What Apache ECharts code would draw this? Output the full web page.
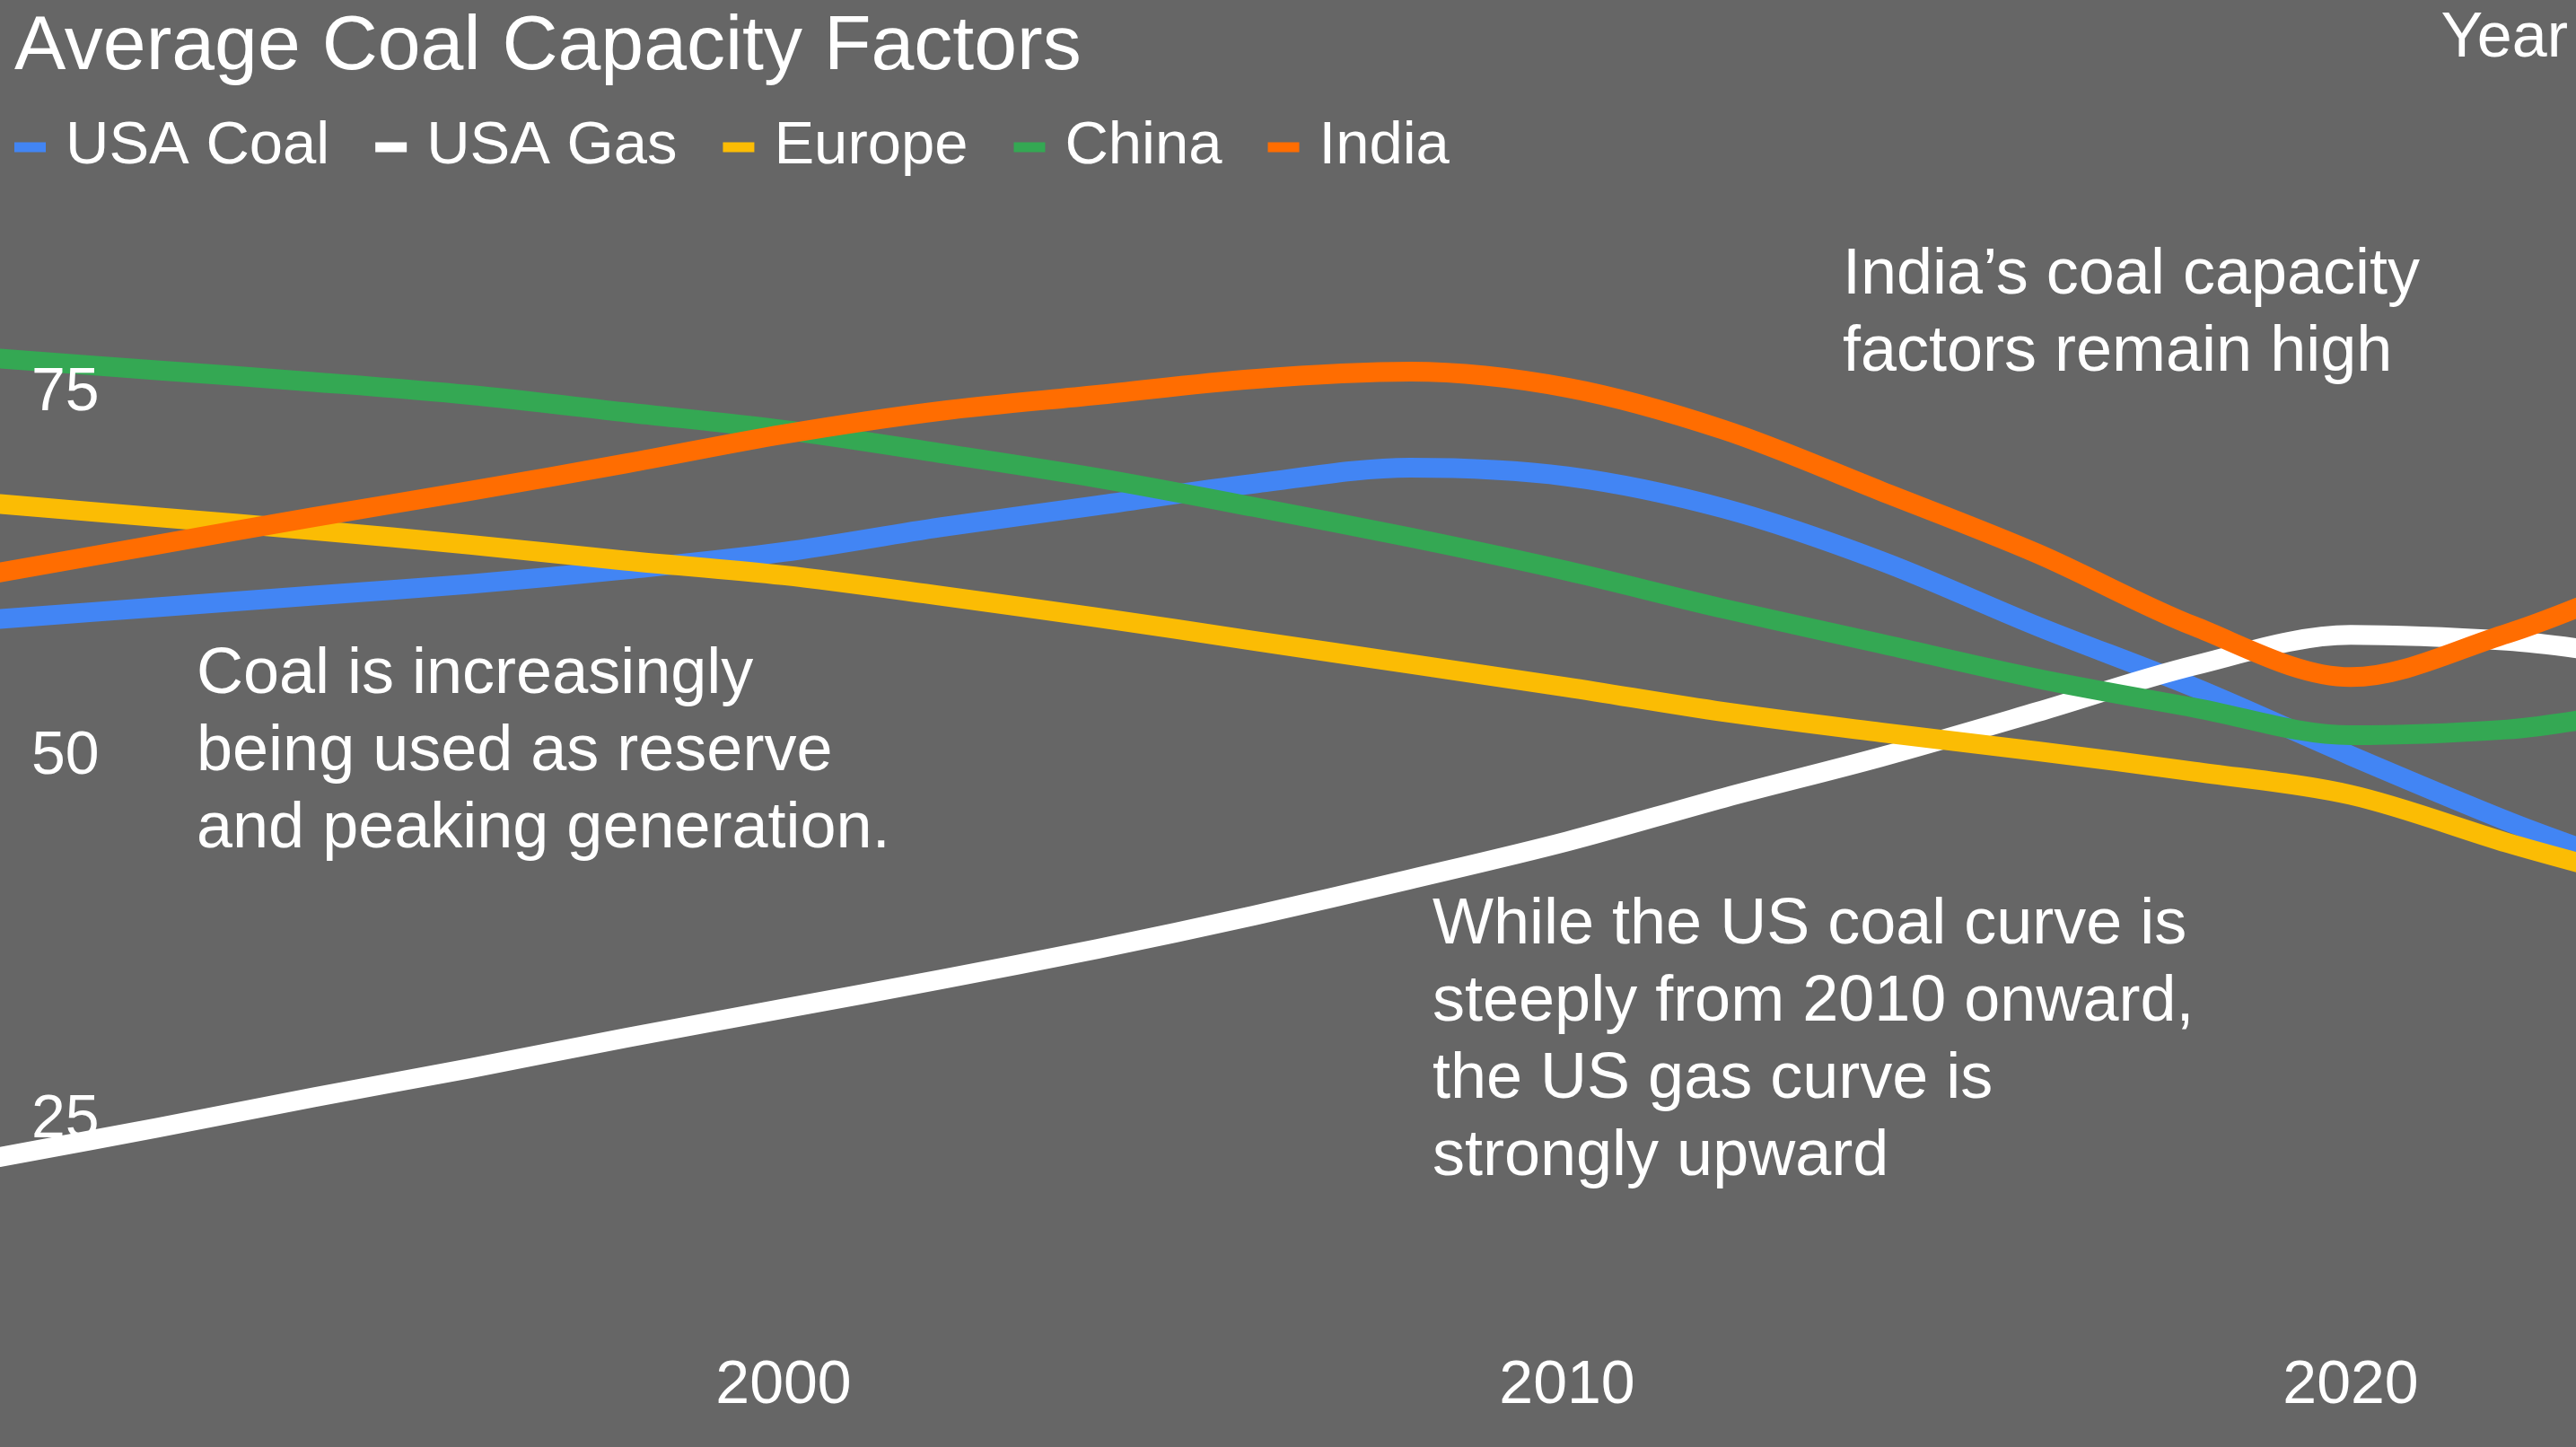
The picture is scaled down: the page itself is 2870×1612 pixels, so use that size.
<!DOCTYPE html>
<html>
<head>
<meta charset="utf-8">
<script src="https://cdn.jsdelivr.net/npm/echarts@6/dist/echarts.min.js"></script>
<style>
html,body{margin:0;padding:0;background:#666666;}
#chart{width:2870px;height:1612px;}
</style>
</head>
<body>
<div id="chart"></div>
<script>
const titleText = 'Average Coal Capacity Factors';
const seriesNames = ['USA Coal', 'USA Gas', 'Europe', 'China', 'India'];
const years   = [1990, 1992, 1994, 1996, 1998, 2000, 2002, 2004, 2006, 2008, 2010, 2012, 2014, 2016, 2018, 2020, 2022, 2023];
const usaCoal = [59.2, 60.0, 60.8, 61.6, 62.6, 63.8, 65.5, 67.0, 68.5, 69.6, 69.0, 66.8, 63.2, 58.7, 54.5, 49.8, 45.3, 43.3];
const usaGas  = [22.2, 24.2, 26.3, 28.3, 30.4, 32.4, 34.4, 36.5, 38.8, 41.3, 43.9, 46.9, 49.7, 52.8, 56.0, 58.1, 57.7, 57.1];
const europe  = [67.1, 66.2, 65.3, 64.3, 63.2, 62.2, 60.8, 59.3, 57.7, 56.1, 54.5, 52.8, 51.4, 50.1, 48.7, 47.1, 43.8, 42.3];
const china   = [77.1, 76.3, 75.5, 74.6, 73.4, 72.2, 70.6, 68.9, 66.9, 64.8, 62.5, 59.9, 57.5, 55.1, 53.1, 51.2, 51.6, 52.3];
const india   = [62.4, 64.3, 66.2, 68.0, 69.9, 71.9, 73.5, 74.6, 75.7, 76.2, 75.1, 72.2, 68.0, 63.7, 58.7, 55.2, 58.2, 60.2];
const xTicks = [2000, 2010, 2020];
const yTicks = [25, 50, 75];
const xAxisName = 'Year';
const note1 = 'India\u2019s coal capacity\nfactors remain high';
const note2 = 'Coal is increasingly\nbeing used as reserve\nand peaking generation.';
const note3 = 'While the US coal curve is\nsteeply from 2010 onward,\nthe US gas curve is\nstrongly upward';

const colors = ['#4285F4', '#FFFFFF', '#FBBC04', '#34A853', '#FF6D01'];
const allValues = [usaCoal, usaGas, europe, china, india];
const FONT = "'Liberation Sans', Arial, sans-serif";

const chart = echarts.init(document.getElementById('chart'), null, {renderer: 'canvas'});

const series = seriesNames.map((name, i) => ({
  name: name,
  type: 'line',
  smooth: 0.33,
  showSymbol: false,
  symbol: 'none',
  clip: true,
  z: 2,
  lineStyle: {color: colors[i], width: 22, cap: 'round', join: 'round'},
  itemStyle: {color: colors[i]},
  data: years.map((y, k) => [y, allValues[i][k]])
}));

const noteStyle = {fill: '#FFFFFF', fontSize: 72, fontFamily: FONT, lineHeight: 86, align: 'left', verticalAlign: 'top'};

chart.setOption({
  animation: false,
  backgroundColor: '#666666',
  color: colors,
  title: {
    text: titleText,
    left: 16, top: 10,
    padding: 0,
    textStyle: {color: '#FFFFFF', fontSize: 86, fontWeight: 'normal', fontFamily: FONT, lineHeight: 86}
  },
  legend: {
    data: seriesNames,
    left: 16, top: 124,
    padding: 0,
    icon: 'rect',
    itemWidth: 35, itemHeight: 11,
    itemGap: 51,
    textStyle: {color: '#FFFFFF', fontSize: 67, fontFamily: FONT, lineHeight: 80, padding: [0, 0, 0, 17]}
  },
  grid: {left: 0, right: 0, top: 0, bottom: 112, containLabel: false},
  xAxis: {
    type: 'value',
    min: 1990, max: 2022.875,
    axisLine: {show: false}, axisTick: {show: false}, splitLine: {show: false},
    axisLabel: {
      customValues: xTicks,
      formatter: v => String(v),
      color: '#FFFFFF', fontSize: 68, fontFamily: FONT, lineHeight: 68, margin: 10
    }
  },
  yAxis: {
    type: 'value',
    min: 9.17, max: 101.76,
    z: 10,
    axisLine: {show: false}, axisTick: {show: false}, splitLine: {show: false},
    axisLabel: {
      customValues: yTicks,
      inside: true,
      margin: 35,
      verticalAlign: 'top',
      lineHeight: 10,
      color: '#FFFFFF', fontSize: 68, fontFamily: FONT
    }
  },
  graphic: [
    {type: 'text', right: 9, top: 9, z: 20, style: {text: xAxisName, fill: '#FFFFFF', fontSize: 70, fontFamily: FONT, lineHeight: 60}},
    {type: 'text', left: 2053, top: 264, z: 20, style: Object.assign({text: note1}, noteStyle)},
    {type: 'text', left: 219, top: 709, z: 20, style: Object.assign({text: note2}, noteStyle)},
    {type: 'text', left: 1596, top: 988, z: 20, style: Object.assign({text: note3}, noteStyle)}
  ],
  series: series
});
</script>
</body>
</html>
